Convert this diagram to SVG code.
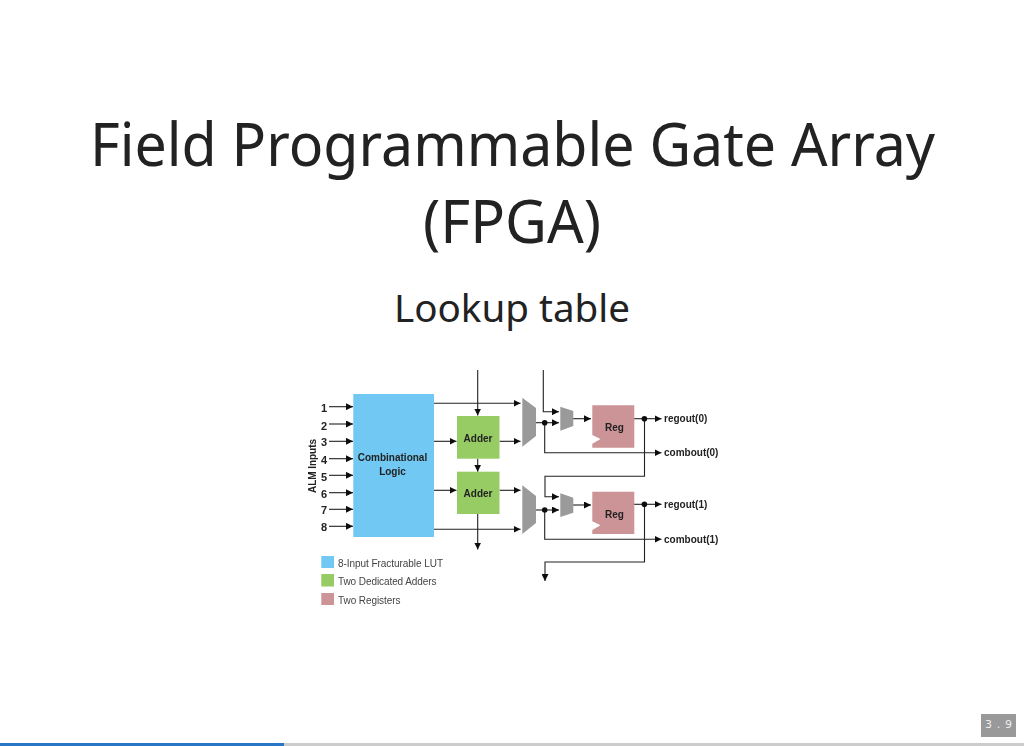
<svg xmlns="http://www.w3.org/2000/svg" width="1024" height="746" viewBox="0 0 1024 746">
<style>
.title{font-family:"Noto Sans","Open Sans",sans-serif;fill:#222;text-anchor:middle}
.d{font-family:"Liberation Sans",Arial,sans-serif;font-size:10px;font-weight:bold;fill:#222;text-anchor:middle}
.n{font-size:11px}
.o{font-family:"Liberation Sans",Arial,sans-serif;font-size:10px;font-weight:bold;fill:#222}
.l{font-family:"Liberation Sans",Arial,sans-serif;font-size:10px;fill:#444}
.c{fill:none;stroke:#222;stroke-width:1.1}
.a{marker-end:url(#arr)}
.lut{fill:#70c8f3}.add{fill:#97cb63}.reg{fill:#cc9497}.mux{fill:#9a9a9a}
</style>
<defs>
<marker id="arr" viewBox="0 0 7 7" refX="7" refY="3.500" markerWidth="7" markerHeight="7" markerUnits="userSpaceOnUse" orient="auto"><path d="M0 0L7 3.500L0 7z" fill="#111"/></marker>
<filter id="soft" x="-5%" y="-5%" width="110%" height="110%"><feGaussianBlur stdDeviation="0.4"/></filter>
</defs>
<rect width="1024" height="746" fill="#fff"/>
<text class="title" x="512.500" y="166" font-size="60" textLength="845" lengthAdjust="spacingAndGlyphs">Field Programmable Gate Array</text>
<text class="title" x="512" y="242.500" font-size="60" textLength="178" lengthAdjust="spacingAndGlyphs">(FPGA)</text>
<text class="title" x="512" y="321.500" font-size="38.500" textLength="236" lengthAdjust="spacingAndGlyphs">Lookup table</text>
<g filter="url(#soft)">
<g id="connectors">
<path class="c a" d="M329 406.700H353"/><path class="c a" d="M329 424H353"/><path class="c a" d="M329 441.300H353"/><path class="c a" d="M329 458.700H353"/><path class="c a" d="M329 475.300H353"/><path class="c a" d="M329 492.700H353"/><path class="c a" d="M329 509.300H353"/><path class="c a" d="M329 526.300H353"/>
<path class="c a" d="M477.700 370V415.500"/><path class="c a" d="M477.700 458.700V471.700"/><path class="c a" d="M477.700 514V549.500"/>
<path class="c a" d="M434 403.300H520.500"/><path class="c a" d="M434 441.300H456.500"/><path class="c a" d="M499.500 441.300H520.500"/>
<path class="c a" d="M434 490.300H456.500"/><path class="c a" d="M499.500 490.300H520.500"/><path class="c a" d="M434 529.300H520.500"/>
<path class="c a" d="M543.300 370V411.700H559"/><path class="c a" d="M536 422.700H559"/><path class="c a" d="M544.700 422.700V452.700H661.500"/>
<path class="c a" d="M573 418.700H591"/><path class="c a" d="M634 418.700H661.500"/>
<path class="c a" d="M644.500 418.700V476.300H545V496.700H559"/><path class="c a" d="M536 510H559"/><path class="c a" d="M544.700 510V539.300H661.500"/>
<path class="c a" d="M573 505H591"/><path class="c a" d="M634 504.300H661.500"/>
<path class="c a" d="M644.500 504.300V562H545V581"/>
<circle cx="544.700" cy="422.700" r="2.800" fill="#111"/><circle cx="644.400" cy="418.700" r="2.800" fill="#111"/><circle cx="544.700" cy="510" r="2.800" fill="#111"/><circle cx="644.400" cy="504.300" r="2.800" fill="#111"/>
</g>
<g id="lut"><rect class="lut" x="353.300" y="394" width="80.700" height="143"/><text class="d" x="392.500" y="460.500">Combinational</text><text class="d" x="392.500" y="475">Logic</text></g>
<g id="adder0"><rect class="add" x="457" y="416" width="42.500" height="42.700"/><text class="d" x="478" y="441.500">Adder</text></g>
<g id="adder1"><rect class="add" x="457" y="471.700" width="42.500" height="42.300"/><text class="d" x="478" y="497">Adder</text></g>
<g id="mux0"><path class="mux" d="M522.300 397.700L536 408V436L522.300 446.700z"/></g>
<g id="mux1"><path class="mux" d="M522.300 485.300L536 496V523L522.300 534z"/></g>
<g id="smux0"><path class="mux" d="M560.300 406.700L573.300 411V426L560.300 430.700z"/></g>
<g id="smux1"><path class="mux" d="M560.300 493.300L573.300 497.700V512.700L560.300 517z"/></g>
<g id="reg0"><path class="reg" d="M592.300 405.300H634.300V447.700H592.300V443.700L600.500 439L592.300 435z"/><text class="d" x="614.500" y="431">Reg</text></g>
<g id="reg1"><path class="reg" d="M592.300 491.700H634.300V534H592.300V530L600.500 525.300L592.300 521.300z"/><text class="d" x="614.500" y="517.500">Reg</text></g>
<g id="labels">
<text class="o" x="664" y="422">regout(0)</text><text class="o" x="664" y="456">combout(0)</text><text class="o" x="664" y="508">regout(1)</text><text class="o" x="664" y="543">combout(1)</text>
<text class="d n" x="324" y="412">1</text><text class="d n" x="324" y="430">2</text><text class="d n" x="324" y="445.500">3</text><text class="d n" x="324" y="463.500">4</text><text class="d n" x="324" y="480.500">5</text><text class="d n" x="324" y="497.500">6</text><text class="d n" x="324" y="514">7</text><text class="d n" x="324" y="531">8</text>
<text class="d" transform="translate(315.500 466) rotate(-90)" textLength="54">ALM Inputs</text>
</g>
<g id="legend">
<rect class="lut" x="321.300" y="556" width="12.700" height="12"/><text class="l" x="338" y="567" textLength="105">8-Input Fracturable LUT</text>
<rect class="add" x="321.300" y="574" width="12.700" height="12.500"/><text class="l" x="338" y="585" textLength="98.500">Two Dedicated Adders</text>
<rect class="reg" x="321.300" y="593" width="12.700" height="12"/><text class="l" x="338" y="604" textLength="62.500">Two Registers</text>
</g>
</g>
<g id="pagenum"><rect x="981" y="714" width="35" height="23" fill="#999"/><text x="998.500" y="727.500" font-family="'DejaVu Sans',sans-serif" font-size="11" fill="#eee" text-anchor="middle" textLength="27">3 . 9</text></g>
<g id="progress"><rect y="743" width="1024" height="3" fill="#ccc"/><rect y="743" width="284" height="3" fill="#2a76c6"/></g>
</svg>
